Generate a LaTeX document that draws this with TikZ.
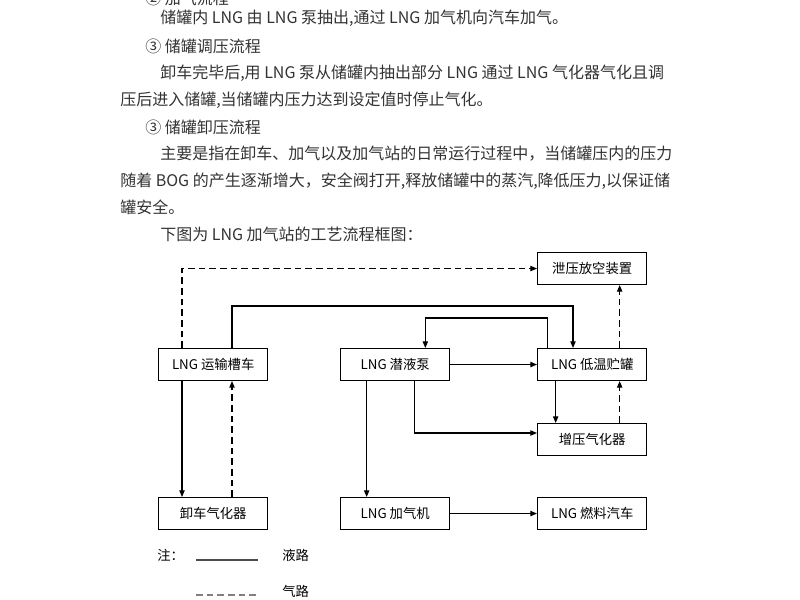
\documentclass[tikz,border=0pt]{standalone}
\usepackage{fontspec}
\setmainfont{Liberation Serif}
\newfontfamily\cjk{Noto Sans CJK SC}
\usetikzlibrary{arrows.meta}
\begin{document}
\begin{tikzpicture}[x=0.75pt,y=-0.75pt,
  box/.style={draw,line width=0.8pt,minimum width=82pt,minimum height=24pt,inner sep=2pt,font=\cjk\fontsize{10}{12}\selectfont,anchor=north west},
  liq/.style={line width=0.8pt,-{Triangle[length=5pt,width=4pt]}},
  gas/.style={line width=0.8pt,dash pattern=on 5pt off 3pt,-{Triangle[length=5pt,width=4pt]}},
  txt/.style={anchor=west,inner sep=0pt,font=\cjk\fontsize{12}{14}\selectfont,text=black!80}]
\useasboundingbox (0,0) rectangle (800,600);
\clip (0,0) rectangle (800,600);
\fill[white] (0,0) rectangle (800,600);
% text
\node[txt] (t0) at (145,-2) {② 加气流程};
\node[txt] (t1) at (160,18) {储罐内 LNG 由 LNG 泵抽出,通过 LNG 加气机向汽车加气。};
\node[txt] (t2) at (145,46) {③ 储罐调压流程};
\node[txt] (t3) at (160,73) {卸车完毕后,用 LNG 泵从储罐内抽出部分 LNG 通过 LNG 气化器气化且调};
\node[txt] (t4) at (120,100) {压后进入储罐,当储罐内压力达到设定值时停止气化。};
\node[txt] (t5) at (145,127) {③ 储罐卸压流程};
\node[txt] (t6) at (160,154) {主要是指在卸车、加气以及加气站的日常运行过程中，当储罐压内的压力};
\node[txt] (t7) at (120,181) {随着 BOG 的产生逐渐增大，安全阀打开,释放储罐中的蒸汽,降低压力,以保证储};
\node[txt] (t8) at (120,207) {罐安全。};
\node[txt] (t9) at (160,234) {下图为 LNG 加气站的工艺流程框图：};
% boxes
\node[box] (xy) at (537,252) {泄压放空装置};
\node[box] (ys) at (158,348) {LNG 运输槽车};
\node[box] (bp) at (340,348) {LNG 潜液泵};
\node[box] (cg) at (537,348) {LNG 低温贮罐};
\node[box] (zy) at (537,423) {增压气化器};
\node[box] (xc) at (158,497) {卸车气化器};
\node[box] (jq) at (340,497) {LNG 加气机};
\node[box] (rl) at (537,497) {LNG 燃料汽车};
% connectors
\draw[gas] ([xshift=18pt]ys.north west) -- ([xshift=18pt]ys.north west |- xy.west) -- (xy.west);
\draw[liq] ([xshift=55.5pt]ys.north west) -- ++(0,-42) -| ([xshift=27pt]cg.north west);
\draw[liq] ([xshift=8pt]cg.north west) -- ++(0,-30) -| ([xshift=64pt]bp.north west);
\draw[liq] (bp.east) -- (cg.west);
\draw[liq] ([xshift=14pt]cg.south west) -- ([xshift=14pt]zy.north west);
\draw[gas] ([xshift=62pt]zy.north west) -- ([xshift=62pt]cg.south west);
\draw[gas] ([xshift=62pt]cg.north west) -- ([xshift=62pt]xy.south west);
\draw[liq] ([xshift=56pt]bp.south west) |- ([yshift=-7.5pt]zy.north west);
\draw[liq] ([xshift=20pt]bp.south west) -- ([xshift=20pt]jq.north west);
\draw[liq] (jq.east) -- (rl.west);
\draw[liq] ([xshift=18pt]ys.south west) -- ([xshift=18pt]xc.north west);
\draw[gas] ([xshift=55.5pt]xc.north west) -- ([xshift=55.5pt]ys.south west);
% legend
\node[anchor=west,inner sep=0pt,font=\cjk\fontsize{10}{12}\selectfont] (zl) at (157,555) {注：};
\coordinate (l1a) at (196,560); \coordinate (l1b) at (258,560);
\draw[line width=0.8pt,black!70] (l1a) -- (l1b);
\node[anchor=west,inner sep=0pt,font=\cjk\fontsize{10}{12}\selectfont] (yl) at (282,555) {液路};
\coordinate (l2a) at (196,595); \coordinate (l2b) at (258,595);
\draw[line width=0.8pt,black!50,dash pattern=on 5pt off 3pt] (l2a) -- (l2b);
\node[anchor=west,inner sep=0pt,font=\cjk\fontsize{10}{12}\selectfont] (ql) at (282,591) {气路};
\end{tikzpicture}
\end{document}
